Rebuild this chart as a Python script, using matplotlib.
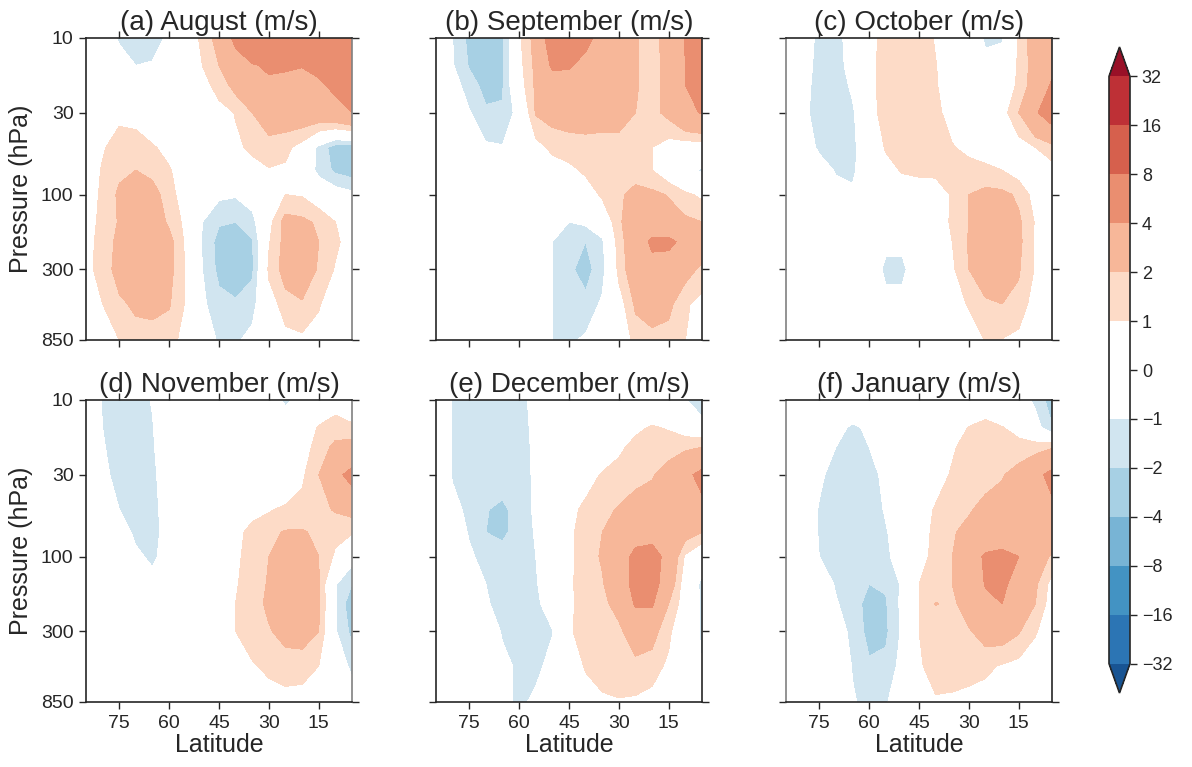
import numpy as np
import matplotlib
matplotlib.use("Agg")
import matplotlib.pyplot as plt
from matplotlib.colors import ListedColormap, BoundaryNorm
from matplotlib.ticker import NullLocator

# grid: rows = pressure (top to bottom), cols = latitude
lats = [85, 80, 75, 70, 65, 60, 55, 50, 45, 40, 35, 30, 25, 20, 15, 10, 5]
pressure = [10, 15, 20, 30, 50, 70, 100, 150, 200, 300, 500, 850]
levels = [-32, -16, -8, -4, -2, -1, 0, 1, 2, 4, 8, 16, 32]
titles = ["(a) August (m/s)", "(b) September (m/s)", "(c) October (m/s)",
          "(d) November (m/s)", "(e) December (m/s)", "(f) January (m/s)"]
lat_ticks = [75, 60, 45, 30, 15]
p_ticks = [10, 30, 100, 300, 850]

aug = [
    [0, -0.5, -1.1, -1.6, -1.4, -0.8, 0, 1.3, 2.5, 4.5, 6.0, 7.0, 7.5, 7.5, 7.5, 7.5, 7.5],
    [0, -0.2, -0.6, -1.0, -0.9, -0.4, 0, 1.0, 2.0, 3.0, 3.8, 4.3, 4.2, 4.05, 4.3, 4.8, 5.5],
    [0, 0, -0.2, -0.4, -0.3, -0.1, 0, 0.6, 1.4, 2.4, 3.0, 3.6, 3.5, 3.5, 3.8, 4.3, 5.0],
    [0, 0.1, 0.8, 0.7, 0.3, 0, 0, 0.2, 0.6, 1.05, 2.0, 2.6, 2.7, 2.9, 3.0, 3.4, 4.0],
    [0.2, 0.9, 1.4, 1.4, 1.1, 0.7, 0.3, 0, 0.3, 0.8, 1.2, 1.6, 1.3, 0.5, -1.3, -2.6, -2.6],
    [0.3, 1.1, 1.8, 2.0, 1.7, 1.1, 0.4, 0, 0, 0.3, 0.6, 0.9, 0.8, 0.3, -1.4, -2.2, -2.5],
    [0.4, 1.2, 2.2, 2.6, 2.5, 1.4, 0.4, -0.3, -0.8, -0.9, -0.5, 0.3, 1.0, 0.9, 0.3, -0.3, -0.7],
    [0.5, 1.3, 2.1, 2.7, 2.8, 1.8, 0.7, -1.0, -1.9, -2.0, -1.4, 0.6, 2.5, 2.3, 1.8, 1.0, 0.4],
    [0.6, 1.4, 2.3, 3.0, 3.0, 2.4, 0.8, -1.1, -2.4, -2.6, -2.1, 0.9, 2.4, 2.6, 2.0, 1.2, 0.5],
    [0.6, 1.5, 2.4, 3.0, 3.1, 2.4, 0.9, -1.0, -2.3, -2.8, -2.2, 1.2, 2.5, 2.6, 1.9, 0.9, 0.3],
    [0.3, 1.0, 1.8, 2.2, 2.3, 2.1, 0.9, -0.8, -1.6, -1.8, -1.4, 0.4, 1.5, 1.9, 1.1, 0.3, 0],
    [0, 0.5, 1.0, 1.5, 1.5, 1.3, 0.7, 0, -1.2, -1.2, -0.6, 0, 0.6, 0.7, 0.5, 0, 0],
]

sep = [
    [0, -1.0, -2.3, -2.8, -2.2, 0.8, 2.5, 5.2, 5.5, 4.6, 3.2, 3.0, 2.1, 1.6, 2.5, 4.1, 5.0],
    [0, -0.9, -2.1, -2.7, -2.1, 0.6, 2.3, 4.3, 4.2, 3.3, 2.9, 2.8, 2.1, 1.6, 2.4, 4.0, 4.8],
    [0, -0.5, -1.5, -2.4, -2.1, 0.4, 2.2, 3.0, 3.1, 3.0, 2.9, 2.7, 2.1, 1.6, 2.4, 4.0, 4.6],
    [0, -0.2, -0.9, -1.8, -1.9, -0.5, 2.1, 2.4, 2.5, 2.5, 2.4, 2.4, 2.0, 1.7, 2.3, 3.6, 4.1],
    [0, 0, -0.3, -0.8, -0.9, -0.3, 0.5, 1.3, 1.5, 1.6, 1.6, 1.6, 1.5, 1.0, 0.4, 0.2, 0.2],
    [0, 0, 0, 0, 0, 0, 0, 0.3, 0.7, 1.2, 1.5, 1.6, 1.5, 1.0, 0.2, -0.5, -1.2],
    [0, 0, 0, 0, 0, 0, 0, 0, 0, 0.3, 1.2, 1.8, 2.4, 2.3, 1.9, 1.2, 0.8],
    [0, 0, 0, 0, 0, 0, 0, -0.4, -1.0, -0.8, -0.2, 1.8, 2.9, 3.0, 2.7, 2.3, 2.0],
    [0, 0, 0, 0, 0, 0, 0, -1.0, -1.8, -2.0, -1.2, 1.5, 3.0, 4.3, 4.4, 3.5, 2.6],
    [0, 0, 0, 0, 0, 0, 0, -1.0, -1.8, -2.4, -1.4, 1.3, 3.0, 3.4, 3.0, 2.4, 1.8],
    [0, 0, 0, 0, 0, 0, 0, -1.0, -1.6, -1.7, -0.8, 0.4, 2.2, 2.6, 2.3, 1.2, 0.5],
    [0, 0, 0, 0, 0, 0, 0, -1.0, -1.2, -0.8, -0.2, 0.2, 1.3, 1.6, 1.5, 1.0, 0.4],
]

octo = [
    [0, -0.3, -1.3, -1.5, -0.3, 0.5, 1.5, 1.7, 1.6, 0.9, 0.3, 0, -1.2, -1.1, 1.1, 2.8, 3.6],
    [0, -0.4, -1.4, -1.6, -0.4, 0.6, 1.5, 1.7, 1.6, 1.05, 0.3, 0, -0.6, -0.4, 1.2, 2.6, 3.6],
    [0, -0.5, -1.5, -1.6, -0.8, 0.6, 1.5, 1.7, 1.6, 1.1, 0.3, 0, 0, 0.2, 1.2, 2.7, 4.2],
    [0, -0.6, -1.6, -1.7, -1.2, 0.5, 1.5, 1.7, 1.6, 1.3, 0.5, 0, 0, 0.5, 2.0, 3.8, 5.0],
    [0, -0.3, -1.2, -1.5, -1.3, 0, 1.1, 1.4, 1.5, 1.4, 1.1, 0.6, 0.2, 0.1, 0.4, 1.0, 1.6],
    [0, 0, -0.4, -1.1, -1.2, -0.2, 0.6, 1.1, 1.2, 1.2, 1.5, 1.6, 1.4, 1.0, 0.5, 0.3, 0.5],
    [0, 0, 0, -0.5, -0.8, -0.2, 0, 0.2, 0.4, 0.5, 1.1, 2.0, 2.3, 2.3, 1.8, 0.5, 0.2],
    [0, 0, 0, 0, 0, 0, 0, 0, 0.2, 0.6, 1.1, 2.0, 2.6, 2.7, 2.2, 0.9, -0.6],
    [0, 0, 0, 0, 0, 0, -0.7, -0.7, 0, 0.5, 1.0, 2.1, 2.8, 2.9, 2.3, 0.8, -1.1],
    [0, 0, 0, 0, 0, 0, -1.3, -1.3, 0, 0.3, 0.8, 2.0, 2.7, 2.8, 2.1, 0.9, 0.2],
    [0, 0, 0, 0, 0, 0, -0.5, -0.5, 0, 0.1, 0.5, 1.1, 1.8, 2.0, 1.7, 0.4, 0],
    [0, 0, 0, 0, 0, 0, 0, 0, 0, 0, 0, 0.3, 1.05, 0.95, 0.6, 0.2, 0],
]

nov = [
    [0, -1.1, -1.4, -1.3, -0.95, 0, 0, 0, 0, 0, 0, -0.5, -1.15, -0.7, 0, 0.5, 0.2],
    [0, -1.0, -1.5, -1.5, -1.05, -0.2, 0, 0, 0, 0, 0, 0, -0.3, 0.2, 1.1, 1.5, 1.2],
    [0, -0.9, -1.5, -1.6, -1.1, -0.3, 0, 0, 0, 0, 0, 0, 0, 0.5, 1.4, 2.3, 2.6],
    [0, -0.7, -1.4, -1.6, -1.2, -0.4, 0, 0, 0, 0, 0, 0, 0, 0.8, 2.0, 3.5, 4.6],
    [0, -0.2, -1.0, -1.4, -1.3, -0.5, 0, 0, 0, 0.3, 0.7, 0.9, 1.2, 1.4, 1.7, 2.1, 2.4],
    [0, 0, -0.5, -1.2, -1.3, -0.6, 0, 0, 0.2, 0.7, 1.3, 1.7, 2.1, 2.1, 1.8, 1.3, 1.1],
    [0, 0, 0, -0.8, -1.2, -0.5, 0, 0, 0.3, 0.8, 1.4, 2.0, 2.6, 2.7, 2.0, 0.8, -0.6],
    [0, 0, 0, -0.4, -0.6, -0.2, 0, 0, 0.3, 0.9, 1.5, 2.1, 2.8, 2.9, 2.1, -0.9, -2.0],
    [0, 0, 0, 0, 0, 0, 0, 0, 0.4, 1.0, 1.6, 2.2, 3.0, 3.0, 2.2, -0.9, -2.8],
    [0, 0, 0, 0, 0, 0, 0, 0, 0.3, 1.0, 1.4, 1.9, 2.4, 2.5, 2.0, -0.9, -2.3],
    [0, 0, 0, 0, 0, 0, 0, 0, 0, 0.4, 0.9, 1.2, 1.4, 1.4, 1.0, -0.4, -1.2],
    [0, 0, 0, 0, 0, 0, 0, 0, 0, 0, 0.3, 0.5, 0.6, 0.5, 0.2, 0, -0.4],
]

dec = [
    [0, -1.05, -1.4, -1.5, -1.5, -1.3, -0.7, 0, 0, 0, 0, 0, 0, 0, 0, -0.9, -2.2],
    [0, -1.05, -1.4, -1.5, -1.5, -1.3, -0.8, 0, 0, 0, 0, 0.2, 0.8, 1.1, 0.9, 0.4, 0],
    [0, -1.1, -1.4, -1.5, -1.5, -1.4, -0.8, 0, 0, 0, 0.3, 0.8, 1.3, 1.5, 1.6, 1.8, 2.0],
    [0, -1.1, -1.4, -1.6, -1.6, -1.5, -0.8, 0, 0, 0.5, 1.1, 1.4, 1.7, 1.9, 2.5, 3.5, 4.6],
    [0, -0.6, -1.3, -1.95, -2.2, -1.6, -0.8, 0, 0.6, 1.3, 1.7, 2.1, 2.5, 2.7, 3.0, 3.3, 3.4],
    [0, -0.3, -1.1, -2.0, -2.2, -1.6, -0.9, 0, 0.8, 1.4, 2.0, 2.5, 3.3, 3.5, 2.9, 2.5, 2.0],
    [0, 0, -0.8, -1.4, -1.6, -1.5, -1.0, -0.2, 0.7, 1.6, 2.1, 3.0, 4.5, 4.6, 3.5, 0.8, -0.4],
    [0, 0, -0.3, -1.0, -1.4, -1.5, -1.1, -0.3, 0.8, 1.5, 1.9, 3.0, 4.6, 4.7, 3.0, 0.2, -1.3],
    [0, 0, 0, -0.9, -1.3, -1.4, -1.2, -0.5, 0.8, 1.4, 1.8, 2.3, 4.2, 4.2, 2.0, 0.3, -1.2],
    [0, 0, 0, -0.3, -1.1, -1.3, -1.3, -1.05, 0.9, 1.3, 1.6, 1.8, 2.6, 2.5, 1.2, 0, -1.2],
    [0, 0, 0, 0, -0.7, -1.2, -1.3, -0.6, 0.3, 1.1, 1.4, 1.6, 1.7, 1.4, 0.8, 0, -1.0],
    [0, 0, 0, 0, -0.6, -1.3, -0.7, 0, 0, 0.4, 0.8, 0.9, 0.8, 0.6, 0.3, 0, -0.3],
]

jan = [
    [0, 0, 0, 0, 0, 0, 0, 0, 0, 0, 0, 0, 0.4, 0, -0.5, -1.2, -2.6],
    [0, 0, 0, -0.6, -1.2, -0.8, -0.3, 0, 0, 0, 0.3, 1.05, 1.3, 1.05, 0.6, -0.5, -1.9],
    [0, 0, -0.3, -1.0, -1.5, -1.0, -0.4, 0, 0, 0.3, 0.9, 1.3, 1.4, 1.4, 1.4, 1.6, 1.9],
    [0, 0, -0.8, -1.4, -1.6, -1.4, -0.7, 0, 0.2, 0.6, 1.1, 1.4, 1.7, 1.9, 2.5, 3.4, 4.6],
    [0, 0, -1.1, -1.6, -1.7, -1.5, -0.9, -0.2, 0.5, 1.1, 1.5, 1.9, 2.3, 2.6, 2.9, 3.2, 3.5],
    [0, 0, -1.1, -1.6, -1.8, -1.6, -1.1, -0.3, 0.6, 1.2, 1.9, 2.3, 2.7, 3.0, 3.1, 3.1, 3.0],
    [0, 0, -1.0, -1.5, -1.8, -1.7, -1.2, -0.5, 0.6, 1.3, 2.0, 2.9, 4.3, 4.5, 4.0, 2.8, 1.8],
    [0, 0, -0.3, -1.1, -1.6, -2.0, -1.9, -0.8, 1.0, 1.5, 2.0, 2.8, 4.1, 4.2, 3.6, 2.2, 0.6],
    [0, 0, 0, -0.9, -1.5, -2.4, -2.1, -0.7, 1.0, 2.05, 1.8, 2.5, 3.6, 4.0, 3.2, 2.0, 0.4],
    [0, 0, 0, -0.6, -1.2, -2.4, -2.2, -0.8, 1.0, 1.3, 1.6, 1.9, 2.5, 2.6, 2.1, 1.1, 0.3],
    [0, 0, 0, -0.3, -1.05, -1.8, -1.7, -0.6, 0.9, 1.3, 1.4, 1.4, 1.2, 0.9, 0.6, 0.3, 0],
    [0, 0, 0, 0, -0.9, -1.3, -1.1, -0.3, 0.4, 0.9, 0.8, 0.6, 0.5, 0.4, 0.2, 0, 0],
]

fields = [aug, sep, octo, nov, dec, jan]

plt.rcParams['font.family'] = ['Liberation Sans', 'DejaVu Sans']
plt.rcParams['text.color'] = '.15'
plt.rcParams['axes.labelcolor'] = '.15'
plt.rcParams['xtick.color'] = '.15'
plt.rcParams['ytick.color'] = '.15'
plt.rcParams['axes.edgecolor'] = '.15'

# RdBu_r shades with a white band between -1 and 1
shades = plt.get_cmap('RdBu_r')(np.linspace(0, 1, 16)[1:-1])
shades[6] = shades[7] = (1, 1, 1, 1)
cmap = ListedColormap(shades[1:-1])
cmap.set_under(shades[0])
cmap.set_over(shades[-1])
norm = BoundaryNorm(levels, cmap.N)

W, H = 1192, 767
fig = plt.figure(figsize=(W / 100, H / 100), dpi=100)

lefts = [86, 436, 786]
tops = [38, 400]
aw, ah = 266, 302

for i, (title, field) in enumerate(zip(titles, fields)):
    row, col = divmod(i, 3)
    ax = fig.add_axes([lefts[col] / W, 1 - (tops[row] + ah) / H, aw / W, ah / H])
    cs = ax.contourf(lats, pressure, np.array(field), levels=levels,
                     cmap=cmap, norm=norm, extend='both')
    ax.set_yscale('log')
    ax.set_xlim(85, 5)
    ax.set_ylim(850, 10)
    ax.set_yticks(p_ticks)
    ax.yaxis.set_minor_locator(NullLocator())
    ax.set_xticks(lat_ticks)
    ax.tick_params(which='both', direction='out', top=True, right=True,
                   length=5, width=1, labelsize=14, pad=4)
    if col == 0:
        ax.set_yticklabels([str(p) for p in p_ticks])
        ax.set_ylabel("Pressure (hPa)", fontsize=18, labelpad=6)
    else:
        ax.set_yticklabels([])
    if row == 1:
        ax.set_xticklabels([str(l) for l in lat_ticks])
        ax.set_xlabel("Latitude", fontsize=18, labelpad=1)
    else:
        ax.set_xticklabels([])
    ax.set_title(title, fontsize=20, pad=6)
    for s in ax.spines.values():
        s.set_linewidth(1.2)
    if col == 0:
        ax.spines['right'].set_color('0.5')
    if col == 2:
        ax.spines['left'].set_color('0.5')

cax = fig.add_axes([1109 / W, 1 - 693 / H, 21 / W, 646 / H])
cb = fig.colorbar(cs, cax=cax, ticks=levels)
cb.ax.tick_params(labelsize=13, length=5, width=1, direction='out')
cb.outline.set_linewidth(1.2)

fig.savefig("out.png", dpi=100)
